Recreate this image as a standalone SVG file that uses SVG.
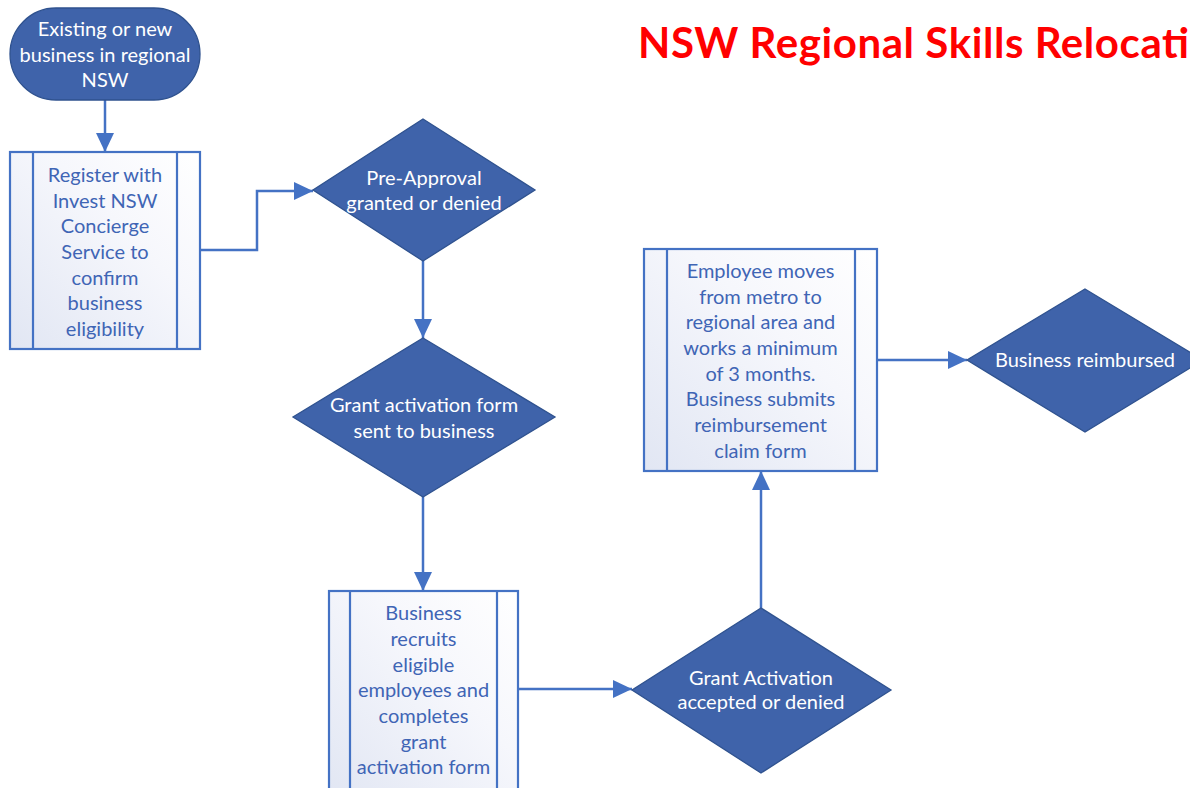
<svg xmlns="http://www.w3.org/2000/svg" width="1190" height="788" viewBox="0 0 1190 788">
<defs>
<linearGradient id="boxfill" x1="0" y1="1" x2="1" y2="0">
<stop offset="0" stop-color="#E1E6F3"/>
<stop offset="0.6" stop-color="#F6F7FC"/>
<stop offset="1" stop-color="#FFFFFF"/>
</linearGradient>
<marker id="arr" markerUnits="userSpaceOnUse" markerWidth="20" markerHeight="18" refX="19" refY="9" orient="auto">
<path d="M0,0 L19,9 L0,18 Z" fill="#4472C4"/>
</marker>
<style>
.dark{fill:#3F63AA;stroke:#2F528F;stroke-width:1.3}
.box{fill:url(#boxfill);stroke:#4472C4;stroke-width:2.2}
.inner{stroke:#4472C4;stroke-width:2.2;fill:none}
.wt{font-family:Lato,"Noto Sans",sans-serif;font-size:20px;fill:#FFFFFF;text-anchor:middle}
.bt{font-family:Lato,"Noto Sans",sans-serif;font-size:20px;fill:#3F65B5;text-anchor:middle}
.conn{fill:none;stroke:#4472C4;stroke-width:2.5;marker-end:url(#arr)}
.title{font-family:Lato,"Noto Sans",sans-serif;font-size:42px;font-weight:bold;fill:#FF0000}
</style>
</defs>
<rect width="1190" height="788" fill="#FFFFFF"/>
<text class="title" x="638" y="58" textLength="551" lengthAdjust="spacing">NSW Regional Skills Relocati</text>
<g id="connectors">
<path class="conn" d="M105,100 L105,152"/>
<path class="conn" d="M200,250 L257,250 L257,191 L313,191"/>
<path class="conn" d="M423,261 L423,338"/>
<path class="conn" d="M423,497 L423,591"/>
<path class="conn" d="M518,689 L632,689"/>
<path class="conn" d="M761,608 L761,471"/>
<path class="conn" d="M877,360 L967,360"/>
</g>
<g id="start">
<rect class="dark" x="10" y="8" width="190" height="92" rx="46" ry="46"/>
<text class="wt" x="105" y="36">Existing or new</text>
<text class="wt" x="105" y="61.5">business in regional</text>
<text class="wt" x="105" y="87">NSW</text>
</g>
<g id="register">
<rect class="box" x="10" y="152" width="190" height="197"/>
<path class="inner" d="M33,152 V349 M177,152 V349"/>
<text class="bt" x="105" y="182">Register with</text>
<text class="bt" x="105" y="207.5">Invest NSW</text>
<text class="bt" x="105" y="233">Concierge</text>
<text class="bt" x="105" y="259">Service to</text>
<text class="bt" x="105" y="285">confirm</text>
<text class="bt" x="105" y="310">business</text>
<text class="bt" x="105" y="336">eligibility</text>
</g>
<g id="preapproval">
<polygon class="dark" points="423,119 535,190 423,261 313,190"/>
<text class="wt" x="424" y="185">Pre-Approval</text>
<text class="wt" x="424" y="210">granted or denied</text>
</g>
<g id="activationform">
<polygon class="dark" points="423,338 555,417 423,497 293,417"/>
<text class="wt" x="424" y="412">Grant activation form</text>
<text class="wt" x="424" y="438">sent to business</text>
</g>
<g id="recruits">
<rect class="box" x="329" y="591" width="189" height="210"/>
<path class="inner" d="M350,591 V801 M497,591 V801"/>
<text class="bt" x="423.5" y="620">Business</text>
<text class="bt" x="423.5" y="646">recruits</text>
<text class="bt" x="423.5" y="671.5">eligible</text>
<text class="bt" x="423.5" y="697">employees and</text>
<text class="bt" x="423.5" y="723">completes</text>
<text class="bt" x="423.5" y="748.5">grant</text>
<text class="bt" x="423.5" y="774">activation form</text>
</g>
<g id="activationaccepted">
<polygon class="dark" points="761,608 891,690 761,773 632,690"/>
<text class="wt" x="761" y="685">Grant Activation</text>
<text class="wt" x="761" y="709">accepted or denied</text>
</g>
<g id="employeemoves">
<rect class="box" x="644" y="249" width="233" height="222"/>
<path class="inner" d="M667,249 V471 M855,249 V471"/>
<text class="bt" x="760.5" y="278">Employee moves</text>
<text class="bt" x="760.5" y="304">from metro to</text>
<text class="bt" x="760.5" y="329">regional area and</text>
<text class="bt" x="760.5" y="355">works a minimum</text>
<text class="bt" x="760.5" y="381">of 3 months.</text>
<text class="bt" x="760.5" y="406">Business submits</text>
<text class="bt" x="760.5" y="432">reimbursement</text>
<text class="bt" x="760.5" y="458">claim form</text>
</g>
<g id="reimbursed">
<polygon class="dark" points="1085,289 1203,360 1085,432 967,360"/>
<text class="wt" x="1085" y="367">Business reimbursed</text>
</g>
</svg>
